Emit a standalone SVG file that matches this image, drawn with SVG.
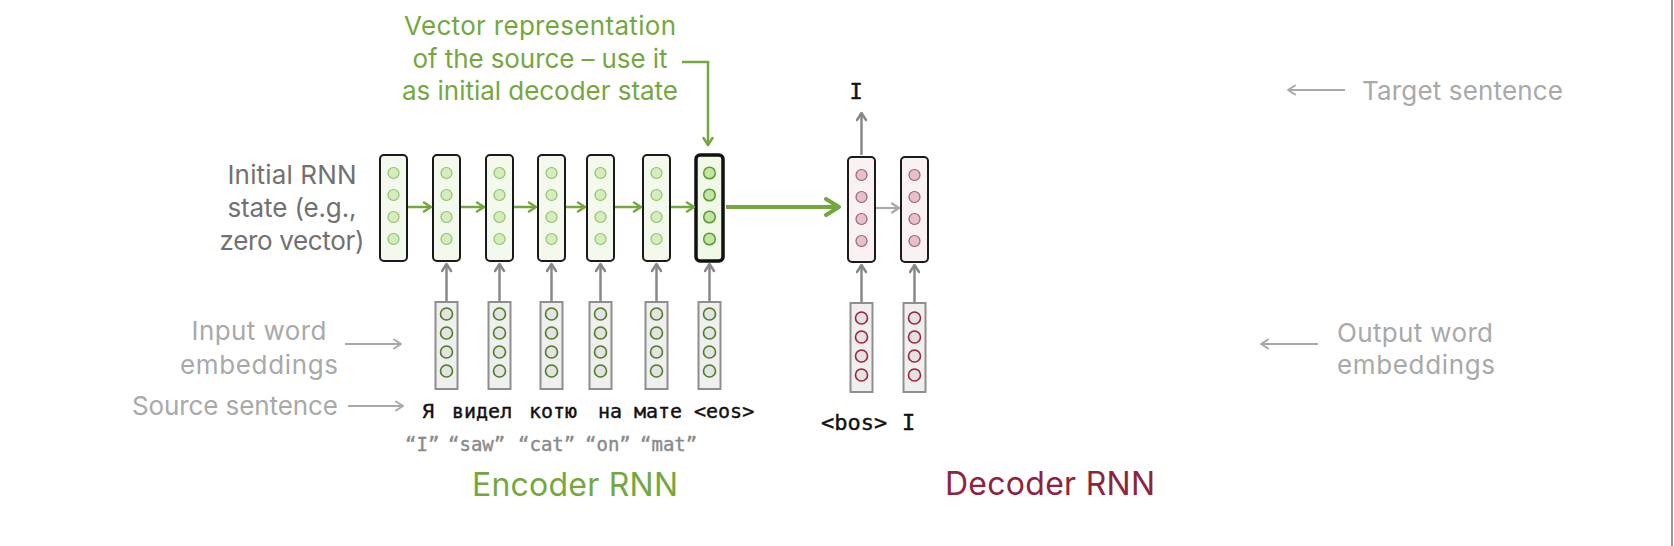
<svg xmlns="http://www.w3.org/2000/svg" width="1674" height="546" viewBox="0 0 1674 546">
<style>
.lbl{font-family:Inter,"Open Sans","Noto Sans",sans-serif;font-size:26px}
.big{font-size:32px}
.dark{fill:#717171}
.light{fill:#a9a9a9}
.green{fill:#74a83f}
.red{fill:#8e2340}
.comic{font-family:"Comic Sans MS","DejaVu Sans Mono",monospace;fill:#111;stroke:#111;stroke-width:0.4}
.gloss{font-family:"Comic Sans MS","DejaVu Sans Mono",monospace;fill:#8a8a8a;stroke:#8a8a8a;stroke-width:0.4;font-size:19px}
.es{fill:#f3f9ec;stroke:#1a1a1a;stroke-width:2}
.esb{fill:#f0f8e8;stroke:#111;stroke-width:3.5}
.ec{fill:#d5ecbe;stroke:#8fc268;stroke-width:1.2}
.ecb{fill:#c4e4a3;stroke:#5e9a34;stroke-width:1.5}
.emb{fill:#efefef;stroke:#8e8e8e;stroke-width:2}
.embc{fill:#e3e3e3;stroke:#4d7d22;stroke-width:1.6}
.ds{fill:#faf1f3;stroke:#1a1a1a;stroke-width:2}
.dc{fill:#e6c0cb;stroke:#9c5f77;stroke-width:1.2}
.dembc{fill:#e3e3e3;stroke:#a41f3c;stroke-width:1.6}
.ga{stroke:#74a83f;stroke-width:2.5;fill:none}
.gy{stroke:#888;stroke-width:2.5;fill:none}
.lg{stroke:#a9a9a9;stroke-width:2;fill:none}
</style>
<defs>
<marker id="mg" viewBox="0 0 12 12" refX="10" refY="6" markerWidth="12" markerHeight="12" markerUnits="userSpaceOnUse" orient="auto">
<path d="M3,1.5 L10,6 L3,10.5" fill="none" stroke="#74a83f" stroke-width="2.5" stroke-linecap="round" stroke-linejoin="round"/>
</marker>
<marker id="mgb" viewBox="0 0 20 20" refX="17" refY="10" markerWidth="20" markerHeight="20" markerUnits="userSpaceOnUse" orient="auto">
<path d="M4,2 L17,10 L4,18" fill="none" stroke="#74a83f" stroke-width="4" stroke-linecap="round" stroke-linejoin="round"/>
</marker>
<marker id="my" viewBox="0 0 12 12" refX="10" refY="6" markerWidth="12" markerHeight="12" markerUnits="userSpaceOnUse" orient="auto">
<path d="M3,1.5 L10,6 L3,10.5" fill="none" stroke="#888" stroke-width="2.5" stroke-linecap="round" stroke-linejoin="round"/>
</marker>
<marker id="myl" viewBox="0 0 12 12" refX="10" refY="6" markerWidth="12" markerHeight="12" markerUnits="userSpaceOnUse" orient="auto">
<path d="M3,1.5 L10,6 L3,10.5" fill="none" stroke="#aaa" stroke-width="2.2" stroke-linecap="round" stroke-linejoin="round"/>
</marker>
<marker id="ml" viewBox="0 0 12 12" refX="10" refY="6" markerWidth="12" markerHeight="12" markerUnits="userSpaceOnUse" orient="auto">
<path d="M3,1.5 L10,6 L3,10.5" fill="none" stroke="#a9a9a9" stroke-width="2" stroke-linecap="round" stroke-linejoin="round"/>
</marker>
</defs>
<rect x="0" y="0" width="1674" height="546" fill="#ffffff"/>
<line x1="1672" y1="0" x2="1672" y2="546" stroke="#999" stroke-width="2"/>

<!-- labels -->
<g id="callout-text" class="lbl green" text-anchor="middle">
<text x="540" y="35" textLength="272">Vector representation</text>
<text x="540" y="68" textLength="255">of the source – use it</text>
<text x="540" y="100" textLength="276">as initial decoder state</text>
</g>
<g id="initial-label" class="lbl dark" text-anchor="middle">
<text x="292" y="184" textLength="129">Initial RNN</text>
<text x="292" y="217" textLength="129">state (e.g.,</text>
<text x="292" y="250" textLength="145">zero vector)</text>
</g>
<g id="input-label" class="lbl light" text-anchor="middle">
<text x="259" y="340" textLength="135">Input word</text>
<text x="259" y="374" textLength="158">embeddings</text>
</g>
<g id="source-label" class="lbl light" text-anchor="end">
<text x="338" y="415" textLength="206">Source sentence</text>
</g>
<g id="target-label" class="lbl light">
<text x="1362" y="100" textLength="201">Target sentence</text>
</g>
<g id="output-label" class="lbl light">
<text x="1337" y="342" textLength="156">Output word</text>
<text x="1337" y="374" textLength="158">embeddings</text>
</g>
<g id="encoder-title"><text class="lbl big green" x="472" y="496" textLength="206">Encoder RNN</text></g>
<g id="decoder-title"><text class="lbl big red" x="945" y="495" textLength="210">Decoder RNN</text></g>

<!-- encoder states -->
<g id="enc-s0"><rect class="es" x="380" y="155" width="27" height="106" rx="4"/><circle class="ec" cx="393.5" cy="173" r="5.5"/><circle class="ec" cx="393.5" cy="195" r="5.5"/><circle class="ec" cx="393.5" cy="217" r="5.5"/><circle class="ec" cx="393.5" cy="239" r="5.5"/></g>
<g id="enc-s1"><rect class="es" x="433" y="155" width="27" height="106" rx="4"/><circle class="ec" cx="446.5" cy="173" r="5.5"/><circle class="ec" cx="446.5" cy="195" r="5.5"/><circle class="ec" cx="446.5" cy="217" r="5.5"/><circle class="ec" cx="446.5" cy="239" r="5.5"/></g>
<g id="enc-s2"><rect class="es" x="486" y="155" width="27" height="106" rx="4"/><circle class="ec" cx="499.5" cy="173" r="5.5"/><circle class="ec" cx="499.5" cy="195" r="5.5"/><circle class="ec" cx="499.5" cy="217" r="5.5"/><circle class="ec" cx="499.5" cy="239" r="5.5"/></g>
<g id="enc-s3"><rect class="es" x="538" y="155" width="27" height="106" rx="4"/><circle class="ec" cx="551.5" cy="173" r="5.5"/><circle class="ec" cx="551.5" cy="195" r="5.5"/><circle class="ec" cx="551.5" cy="217" r="5.5"/><circle class="ec" cx="551.5" cy="239" r="5.5"/></g>
<g id="enc-s4"><rect class="es" x="587" y="155" width="27" height="106" rx="4"/><circle class="ec" cx="600.5" cy="173" r="5.5"/><circle class="ec" cx="600.5" cy="195" r="5.5"/><circle class="ec" cx="600.5" cy="217" r="5.5"/><circle class="ec" cx="600.5" cy="239" r="5.5"/></g>
<g id="enc-s5"><rect class="es" x="643" y="155" width="27" height="106" rx="4"/><circle class="ec" cx="656.5" cy="173" r="5.5"/><circle class="ec" cx="656.5" cy="195" r="5.5"/><circle class="ec" cx="656.5" cy="217" r="5.5"/><circle class="ec" cx="656.5" cy="239" r="5.5"/></g>
<g id="enc-s6"><rect class="esb" x="696" y="155" width="27" height="106" rx="4"/><circle class="ecb" cx="709.5" cy="173" r="5.8"/><circle class="ecb" cx="709.5" cy="195" r="5.8"/><circle class="ecb" cx="709.5" cy="217" r="5.8"/><circle class="ecb" cx="709.5" cy="239" r="5.8"/></g>

<!-- encoder embeddings -->
<g id="enc-e1"><rect class="emb" x="435.5" y="302" width="22" height="87"/><circle class="embc" cx="446.5" cy="314" r="6"/><circle class="embc" cx="446.5" cy="333" r="6"/><circle class="embc" cx="446.5" cy="352" r="6"/><circle class="embc" cx="446.5" cy="371" r="6"/></g>
<g id="enc-e2"><rect class="emb" x="488.5" y="302" width="22" height="87"/><circle class="embc" cx="499.5" cy="314" r="6"/><circle class="embc" cx="499.5" cy="333" r="6"/><circle class="embc" cx="499.5" cy="352" r="6"/><circle class="embc" cx="499.5" cy="371" r="6"/></g>
<g id="enc-e3"><rect class="emb" x="540.5" y="302" width="22" height="87"/><circle class="embc" cx="551.5" cy="314" r="6"/><circle class="embc" cx="551.5" cy="333" r="6"/><circle class="embc" cx="551.5" cy="352" r="6"/><circle class="embc" cx="551.5" cy="371" r="6"/></g>
<g id="enc-e4"><rect class="emb" x="589.5" y="302" width="22" height="87"/><circle class="embc" cx="600.5" cy="314" r="6"/><circle class="embc" cx="600.5" cy="333" r="6"/><circle class="embc" cx="600.5" cy="352" r="6"/><circle class="embc" cx="600.5" cy="371" r="6"/></g>
<g id="enc-e5"><rect class="emb" x="645.5" y="302" width="22" height="87"/><circle class="embc" cx="656.5" cy="314" r="6"/><circle class="embc" cx="656.5" cy="333" r="6"/><circle class="embc" cx="656.5" cy="352" r="6"/><circle class="embc" cx="656.5" cy="371" r="6"/></g>
<g id="enc-e6"><rect class="emb" x="698.5" y="302" width="22" height="87"/><circle class="embc" cx="709.5" cy="314" r="6"/><circle class="embc" cx="709.5" cy="333" r="6"/><circle class="embc" cx="709.5" cy="352" r="6"/><circle class="embc" cx="709.5" cy="371" r="6"/></g>

<!-- decoder states -->
<g id="dec-s1"><rect class="ds" x="848" y="157" width="27" height="105" rx="4"/><circle class="dc" cx="861.5" cy="175" r="5.5"/><circle class="dc" cx="861.5" cy="197" r="5.5"/><circle class="dc" cx="861.5" cy="219" r="5.5"/><circle class="dc" cx="861.5" cy="241" r="5.5"/></g>
<g id="dec-s2"><rect class="ds" x="901" y="157" width="27" height="105" rx="4"/><circle class="dc" cx="914.5" cy="175" r="5.5"/><circle class="dc" cx="914.5" cy="197" r="5.5"/><circle class="dc" cx="914.5" cy="219" r="5.5"/><circle class="dc" cx="914.5" cy="241" r="5.5"/></g>

<!-- decoder embeddings -->
<g id="dec-e1"><rect class="emb" x="850.5" y="303" width="22" height="89"/><circle class="dembc" cx="861.5" cy="318" r="6"/><circle class="dembc" cx="861.5" cy="337" r="6"/><circle class="dembc" cx="861.5" cy="356" r="6"/><circle class="dembc" cx="861.5" cy="375" r="6"/></g>
<g id="dec-e2"><rect class="emb" x="903.5" y="303" width="22" height="89"/><circle class="dembc" cx="914.5" cy="318" r="6"/><circle class="dembc" cx="914.5" cy="337" r="6"/><circle class="dembc" cx="914.5" cy="356" r="6"/><circle class="dembc" cx="914.5" cy="375" r="6"/></g>

<!-- tokens -->
<g id="source-tokens" class="comic" style="font-size:20px">
<text y="418"><tspan x="422">Я</tspan><tspan x="452">видел</tspan><tspan x="529">котю</tspan><tspan x="598">на</tspan><tspan x="634">мате</tspan><tspan x="694">&lt;eos&gt;</tspan></text>
</g>
<g id="gloss-tokens" class="gloss">
<text y="451"><tspan x="405">“I”</tspan><tspan x="448">“saw”</tspan><tspan x="518">“cat”</tspan><tspan x="585">“on”</tspan><tspan x="640">“mat”</tspan></text>
</g>
<g id="target-token" class="comic" style="font-size:22px"><text x="856" y="99" text-anchor="middle">I</text></g>
<g id="decoder-inputs" class="comic" style="font-size:22px"><text y="430"><tspan x="821">&lt;bos&gt;</tspan><tspan x="902">I</tspan></text></g>

<!-- connectors -->
<g id="connectors">
<line class="ga" x1="408" y1="207" x2="431" y2="207" marker-end="url(#mg)"/>
<line class="ga" x1="461" y1="207" x2="484" y2="207" marker-end="url(#mg)"/>
<line class="ga" x1="514" y1="207" x2="536" y2="207" marker-end="url(#mg)"/>
<line class="ga" x1="566" y1="207" x2="585" y2="207" marker-end="url(#mg)"/>
<line class="ga" x1="615" y1="207" x2="641" y2="207" marker-end="url(#mg)"/>
<line class="ga" x1="671" y1="207" x2="694" y2="207" marker-end="url(#mg)"/>
<line x1="726" y1="207" x2="839" y2="207" stroke="#74a83f" stroke-width="4" marker-end="url(#mgb)"/>
<polyline class="ga" points="682,62 708,62 708,145" marker-end="url(#mg)"/>
<line class="gy" x1="446.5" y1="301" x2="446.5" y2="264" marker-end="url(#my)"/>
<line class="gy" x1="499.5" y1="301" x2="499.5" y2="264" marker-end="url(#my)"/>
<line class="gy" x1="551.5" y1="301" x2="551.5" y2="264" marker-end="url(#my)"/>
<line class="gy" x1="600.5" y1="301" x2="600.5" y2="264" marker-end="url(#my)"/>
<line class="gy" x1="656.5" y1="301" x2="656.5" y2="264" marker-end="url(#my)"/>
<line class="gy" x1="709.5" y1="301" x2="709.5" y2="264" marker-end="url(#my)"/>
<line class="gy" x1="861.5" y1="302" x2="861.5" y2="265" marker-end="url(#my)"/>
<line class="gy" x1="914.5" y1="302" x2="914.5" y2="265" marker-end="url(#my)"/>
<line class="gy" x1="861.5" y1="155" x2="861.5" y2="113" marker-end="url(#my)"/>
<line x1="876" y1="208" x2="899" y2="208" stroke="#aaa" stroke-width="2.2" marker-end="url(#myl)"/>
<line class="lg" x1="1345" y1="90" x2="1288" y2="90" marker-end="url(#ml)"/>
<line class="lg" x1="1318" y1="344" x2="1261" y2="344" marker-end="url(#ml)"/>
<line class="lg" x1="345" y1="344" x2="401" y2="344" marker-end="url(#ml)"/>
<line class="lg" x1="348" y1="406" x2="403" y2="406" marker-end="url(#ml)"/>
</g>
</svg>
